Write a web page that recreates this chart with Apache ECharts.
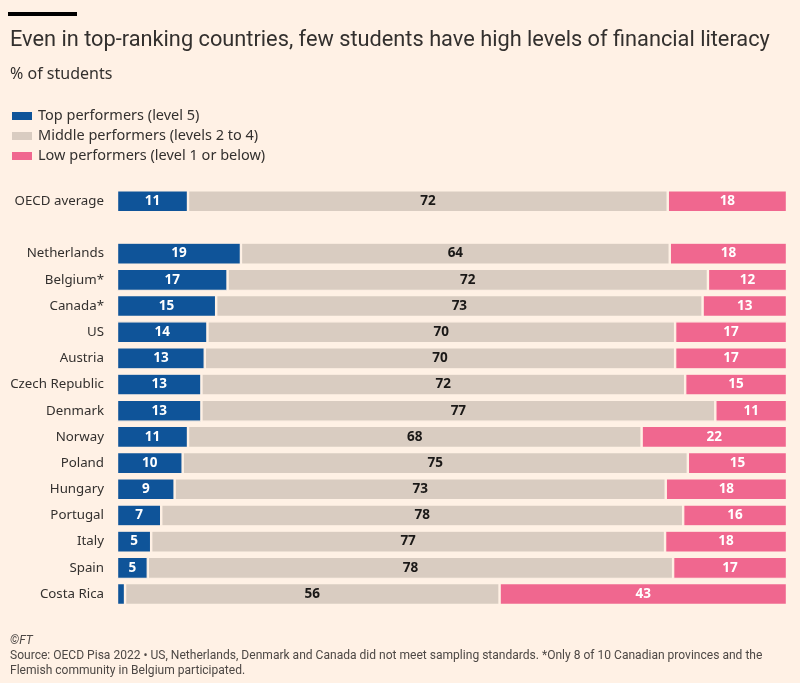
<!DOCTYPE html>
<html><head><meta charset="utf-8">
<script src="https://cdn.jsdelivr.net/npm/echarts@6/dist/echarts.min.js"></script>
<style>html,body{margin:0;padding:0;background:#fff1e5}#c{width:800px;height:683px}</style>
</head><body><div id="c"></div>
<script>
const categories = ['OECD average', '', 'Netherlands', 'Belgium*', 'Canada*', 'US', 'Austria', 'Czech Republic', 'Denmark', 'Norway', 'Poland', 'Hungary', 'Portugal', 'Italy', 'Spain', 'Costa Rica'];
const topPerformers = [10.6, null, 18.5, 16.5, 14.8, 13.5, 13.1, 12.6, 12.6, 10.6, 9.8, 8.6, 6.6, 5.1, 4.6, 1.2];
const middlePerformers = [71.6, null, 64.0, 71.7, 72.6, 69.8, 70.2, 72.2, 76.7, 67.7, 75.4, 73.3, 77.9, 76.7, 78.4, 55.9];
const lowPerformers = [17.8, null, 17.5, 11.8, 12.6, 16.7, 16.7, 15.2, 10.7, 21.7, 14.8, 18.1, 15.5, 18.2, 17.0, 42.9];
const seriesNames = ['Top performers (level 5)', 'Middle performers (levels 2 to 4)', 'Low performers (level 1 or below)'];

const titleText = 'Even in top-ranking countries, few students have high levels of financial literacy';
const sourceText1 = 'Source: OECD Pisa 2022 • US, Netherlands, Denmark and Canada did not meet sampling standards. *Only 8 of 10 Canadian provinces and the';
const sourceText2 = 'Flemish community in Belgium participated.';

const BG = '#fff1e5';
const FONT = '"Noto Sans", sans-serif';
const CFONT = 'Roboto, "Noto Sans", sans-serif';

// fit a font size so text spans a target width
const ctx = document.createElement('canvas').getContext('2d');
function fitSize(text, family, target, base) {
  ctx.font = base + 'px ' + family;
  const w = ctx.measureText(text).width;
  return +(base * target / w).toFixed(2);
}
const titleSize = fitSize(titleText, CFONT, 760, 20);
const srcSize = fitSize(sourceText1, CFONT, 753, 12);

const chart = echarts.init(document.getElementById('c'));

function mk(name, data, color, labelColor) {
  return {
    name, type: 'bar', stack: 'all', data, barWidth: 22,
    itemStyle: { color, borderColor: BG, borderWidth: 1.2 },
    label: {
      show: true, position: 'inside', color: labelColor,
      fontFamily: FONT, fontWeight: 'bold', fontSize: 13.5,
      formatter: p => (p.value == null || p.value < 3) ? '' : String(Math.round(p.value))
    },
    emphasis: { disabled: true }
  };
}

chart.setOption({
  backgroundColor: BG,
  animation: false,
  textStyle: { fontFamily: FONT },
  grid: { left: 117, right: 13, top: 188.2, bottom: 75.9 },
  xAxis: { type: 'value', min: 0, max: 100, show: false },
  yAxis: {
    type: 'category', data: categories, inverse: true,
    axisLine: { show: false }, axisTick: { show: false },
    axisLabel: { color: '#33302e', fontSize: 13.3, margin: 13, fontFamily: FONT }
  },
  legend: {
    orient: 'vertical', left: 10, top: 108, padding: 0, itemWidth: 22, itemHeight: 10, itemGap: 4,
    icon: 'rect', selectedMode: false,
    data: seriesNames,
    textStyle: { color: '#33302e', fontSize: 14.5, lineHeight: 16, fontFamily: FONT }
  },
  graphic: [
    { type: 'rect', left: 8, top: 12, shape: { width: 69, height: 4 }, style: { fill: '#000' } },
    { type: 'text', left: 10, top: 30, style: { text: titleText, fill: '#33302e', font: titleSize + 'px ' + CFONT } },
    { type: 'text', left: 10, top: 66, style: { text: '% of students', fill: '#33302e', font: '16px ' + FONT } },
    { type: 'text', left: 10, top: 635, style: { text: '©FT', fill: '#4d4845', font: 'italic 12px ' + CFONT } },
    { type: 'text', left: 10, top: 650, style: { text: sourceText1, fill: '#4d4845', font: srcSize + 'px ' + CFONT } },
    { type: 'text', left: 10, top: 665, style: { text: sourceText2, fill: '#4d4845', font: srcSize + 'px ' + CFONT } }
  ],
  series: [
    mk(seriesNames[0], topPerformers, '#0f5499', '#ffffff'),
    mk(seriesNames[1], middlePerformers, '#d9ccc1', '#1a1817'),
    mk(seriesNames[2], lowPerformers, '#f0678f', '#ffffff')
  ]
});
</script></body></html>
